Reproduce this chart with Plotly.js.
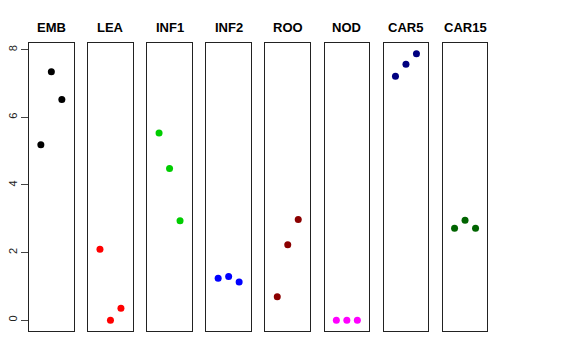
<!DOCTYPE html>
<html>
<head>
<meta charset="utf-8">
<script src="https://cdn.plot.ly/plotly-3.0.1.min.js"></script>
<style>html,body{margin:0;padding:0;background:#fff;}#chart{width:576px;height:360px;}</style>
</head>
<body>
<div id="chart"></div>
<script>
const categories = ["EMB", "LEA", "INF1", "INF2", "ROO", "NOD", "CAR5", "CAR15"];
const colors = ["#000000", "#FF0000", "#00CD00", "#0000FF", "#8B0000", "#FF00FF", "#000080", "#006400"];
const EMB = [5.19, 7.35, 6.53];
const LEA = [2.10, 0.0, 0.35];
const INF1 = [5.54, 4.49, 2.94];
const INF2 = [1.24, 1.29, 1.13];
const ROO = [0.69, 2.23, 2.98];
const NOD = [0.0, 0.0, 0.0];
const CAR5 = [7.22, 7.57, 7.88];
const CAR15 = [2.72, 2.96, 2.72];
const replicate = [1, 2, 3];
const yTicks = [0, 2, 4, 6, 8];

const series = [EMB, LEA, INF1, INF2, ROO, NOD, CAR5, CAR15];

const W = 576, H = 360;
const mL = 29, mR = 88, mT = 43, mB = 29;
const plotW = W - mL - mR;
const step = 59.1, panelW = 44.7;

const data = [];
const layout = {
  width: W, height: H,
  margin: {l: mL, r: mR, t: mT, b: mB, pad: 0},
  showlegend: false,
  paper_bgcolor: "#fff", plot_bgcolor: "#fff",
  font: {family: "Liberation Sans, Arial, sans-serif", size: 11, color: "#000"},
  annotations: []
};

series.forEach((vals, k) => {
  const sx = k === 0 ? "" : String(k + 1);
  data.push({
    type: "scatter", mode: "markers",
    x: replicate, y: vals,
    xaxis: "x" + sx, yaxis: "y" + sx,
    marker: {color: colors[k], size: 7},
    hoverinfo: "skip"
  });
  const d0 = (step * k) / plotW;
  const d1 = (step * k + panelW) / plotW;
  layout["xaxis" + sx] = {
    domain: [d0, d1], range: [-0.13, 4.13], anchor: "y" + sx,
    showgrid: false, zeroline: false, showticklabels: false, ticks: "",
    showline: true, mirror: true, linecolor: "#222", linewidth: 1, fixedrange: true
  };
  const ya = {
    range: [-0.32, 8.2], anchor: "x" + sx,
    showgrid: false, zeroline: false,
    showline: true, mirror: true, linecolor: "#222", linewidth: 1, fixedrange: true
  };
  if (k === 0) {
    Object.assign(ya, {
      tickvals: yTicks, ticktext: yTicks.map(String), ticks: "outside", ticklen: 7,
      tickcolor: "#444", tickwidth: 1, tickangle: -90, showticklabels: true,
      tickfont: {size: 11, color: "#222"}
    });
  } else {
    Object.assign(ya, {showticklabels: false, ticks: ""});
  }
  layout["yaxis" + sx] = ya;
  layout.annotations.push({
    text: "<b>" + categories[k] + "</b>",
    xref: "paper", yref: "paper",
    x: (d0 + d1) / 2, y: 1, xanchor: "center", yanchor: "bottom",
    yshift: 6, showarrow: false,
    font: {size: 13, color: "#000", family: "Liberation Sans, Arial, sans-serif"}
  });
});

Plotly.newPlot("chart", data, layout, {staticPlot: true, displayModeBar: false});
</script>
</body>
</html>
